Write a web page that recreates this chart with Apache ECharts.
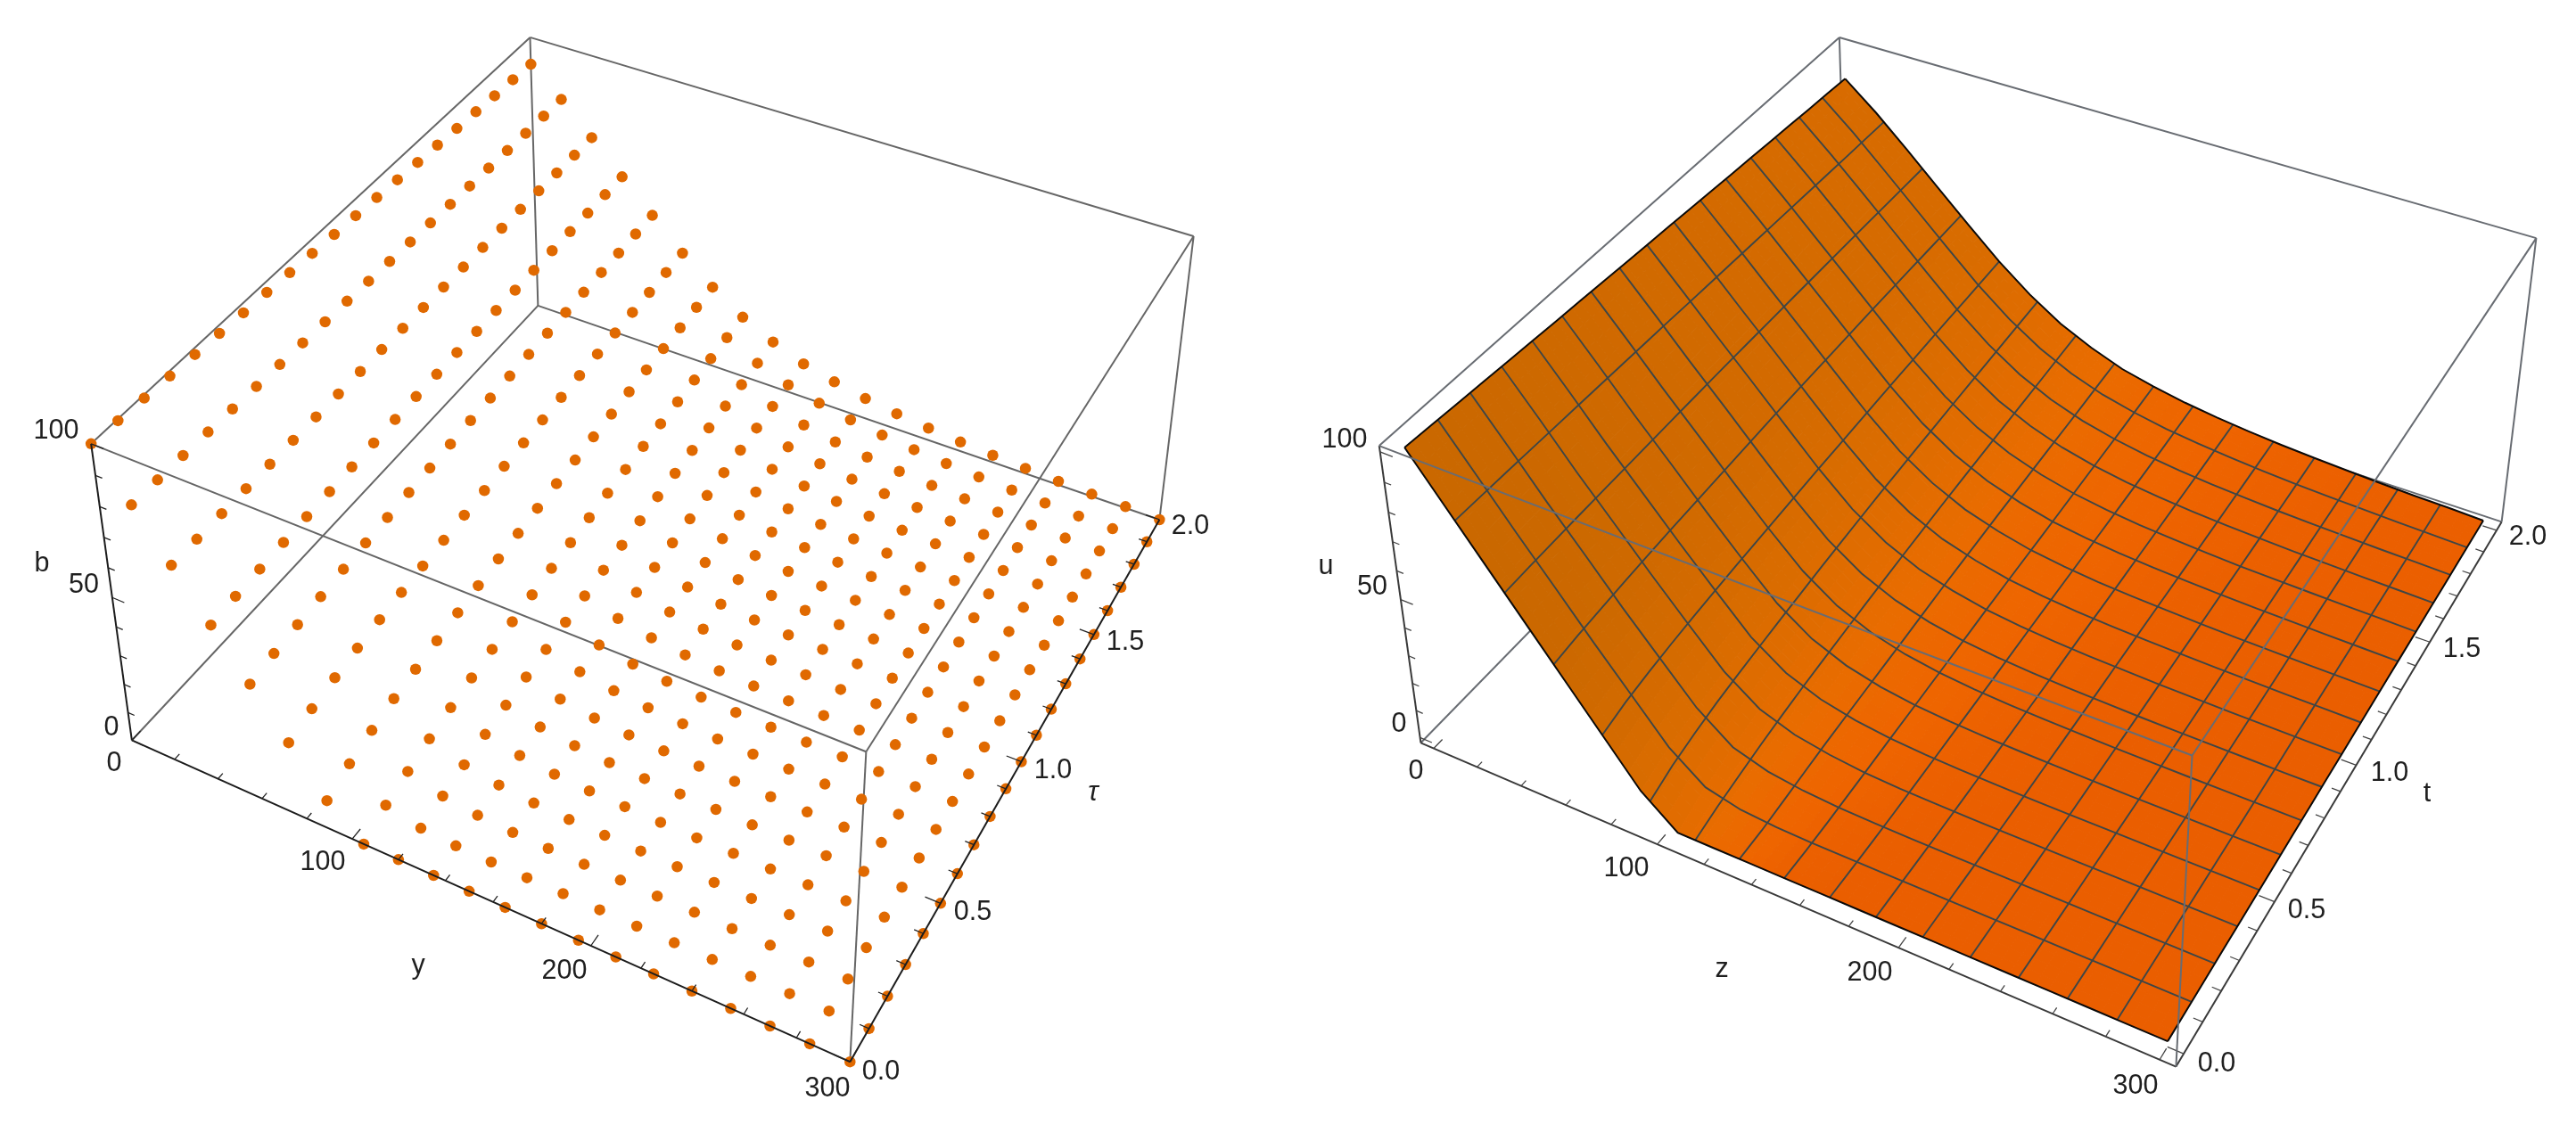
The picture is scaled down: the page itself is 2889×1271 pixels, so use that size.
<!DOCTYPE html>
<html><head><meta charset="utf-8">
<script src="https://cdn.jsdelivr.net/npm/echarts@6/dist/echarts.min.js"></script>
<style>html,body{margin:0;background:#fff}#c{width:2889px;height:1271px}</style></head>
<body><div id="c"></div>
<script>
// ---- grid of the sampled solution -------------------------------------
const yGrid=[0,15,30,45,60,75,90,105,120,135,150,165,180,195,210,225,240,255,270,285,300];
const tauGrid=[0,.1,.2,.3,.4,.5,.6,.7,.8,.9,1,1.1,1.2,1.3,1.4,1.5,1.6,1.7,1.8,1.9,2];
// values: one list per y, running through tauGrid
const v000=[100,99.5,99,98.5,98,97.5,97,96.6,96.1,95.6,95.1,94.7,94.2,93.7,93.2,92.8,92.3,91.9,91.4,91,90.5];
const v015=[85,84.9,84.8,84.6,84.4,84.2,84,83.8,83.6,83.4,83.1,82.9,82.7,82.5,82.3,82.1,81.9,81.7,81.5,81.4,81.2];
const v030=[70,70.1,70.2,70.3,70.4,70.5,70.6,70.7,70.8,70.9,70.9,70.9,70.9,70.9,70.9,70.9,70.9,70.9,70.8,70.8,70.8];
const v045=[55,55.8,56.3,56.8,57.2,57.5,57.9,58.2,58.5,58.8,59,59.2,59.3,59.5,59.6,59.7,59.8,59.9,59.9,60,60];
const v060=[40,41.3,42.2,43,43.8,44.4,44.9,45.4,45.9,46.4,46.9,47.2,47.5,47.8,48.1,48.4,48.6,48.8,49,49.2,49.4];
const v075=[25,27.3,28.8,30,31,31.8,32.5,33.1,33.7,34.3,34.9,35.4,35.9,36.4,36.8,37.2,37.6,38,38.3,38.7,39];
const v090=[10,13.2,15.4,17.2,18.4,19.5,20.6,21.6,22.6,23.4,24.2,25,25.6,26.2,26.8,27.4,28,28.5,29,29.5,30];
const v105=[0,3.8,6,8,9.7,11.1,12.3,13.3,14.3,15.3,16.2,17,17.8,18.5,19.1,19.7,20.2,20.8,21.4,22,22.5];
const v120=[0,1,2.5,3.9,5.2,6.3,7.2,8.1,9.1,9.9,10.7,11.4,12.1,12.8,13.4,14,14.6,15.1,15.6,16.3,17];
const v135=[0,.2,1,1.9,2.8,3.5,4.2,4.9,5.6,6.4,7.2,7.8,8.4,9,9.5,10,10.5,11,11.5,12.1,12.6];
const v150=[0,0,.3,.8,1.3,1.9,2.4,3,3.5,4.1,4.7,5.2,5.7,6.1,6.6,7.1,7.6,8.1,8.6,9.2,9.8];
const v165=[0,0,.1,.3,.6,1,1.4,1.8,2.2,2.7,3.2,3.6,4,4.4,4.8,5.2,5.6,6,6.4,7,7.5];
const v180=[0,0,0,.1,.3,.5,.8,1.1,1.4,1.8,2.2,2.5,2.8,3.1,3.5,3.8,4.2,4.5,4.9,5.4,5.8];
const v195=[0,0,0,0,.1,.3,.5,.7,.9,1.2,1.5,1.8,2,2.3,2.6,2.9,3.1,3.4,3.8,4.1,4.5];
const v210=[0,0,0,0,0,.1,.3,.4,.6,.8,1.1,1.3,1.5,1.7,1.9,2.1,2.3,2.6,2.8,3.1,3.4];
const v225=[0,0,0,0,0,0,.1,.2,.3,.5,.7,.9,1,1.2,1.4,1.5,1.7,1.9,2.1,2.3,2.6];
const v240=[0,0,0,0,0,0,0,.1,.2,.3,.5,.6,.7,.8,1,1.1,1.2,1.4,1.5,1.7,1.9];
const v255=[0,0,0,0,0,0,0,0,.1,.2,.3,.4,.5,.6,.7,.8,.9,1,1.1,1.2,1.3];
const v270=[0,0,0,0,0,0,0,0,0,.1,.2,.2,.3,.3,.4,.5,.5,.6,.7,.7,.8];
const v285=[0,0,0,0,0,0,0,0,0,0,.1,.1,.2,.2,.2,.3,.3,.3,.4,.4,.5];
const v300=[0,0,0,0,0,0,0,0,0,0,0,0,0,0,0,0,0,0,0,0,0];
const values=[v000,v015,v030,v045,v060,v075,v090,v105,v120,v135,v150,v165,v180,v195,v210,v225,v240,v255,v270,v285,v300];

// ---- axis ticks and labels --------------------------------------------
const yMinorTicks=[0,20,40,60,80,100,120,140,160,180,200,220,240,260,280,300];
const yMajorTicks=[0,100,200,300];
const tauMinorTicks=[0,.1,.2,.3,.4,.5,.6,.7,.8,.9,1,1.1,1.2,1.3,1.4,1.5,1.6,1.7,1.8,1.9,2];
const tauMajorTicks=[0,.5,1,1.5,2];
const vMinorTicks=[0,10,20,30,40,50,60,70,80,90,100];
const vMajorTicks=[0,50,100];
const meshY=[18.75,37.5,56.25,75,93.75,112.5,131.25,150,168.75,187.5,206.25,225,243.75,262.5,281.25];
const meshTau=[.125,.25,.375,.5,.625,.75,.875,1,1.125,1.25,1.375,1.5,1.625,1.75,1.875];

// ---- layout: where the two boxes and their texts sit on the page ---------
const leftCorners=[[0,0,0,147.8,831],[1,0,0,953,1191],[1,1,0,1300.4,582.5],[0,1,0,603.6,343],
  [0,0,1,102.5,497],[1,0,1,971.4,843.7],[1,1,1,1338.8,265.3],[0,1,1,594,42]];
const rightCorners=[[0,0,0,1593.8,833.5],[1,0,0,2440.3,1197],[1,1,0,2805.5,585],[0,1,0,2072,343],
  [0,0,1,1546.6,500],[1,0,1,2458.4,846.9],[1,1,1,2844.7,267.7],[0,1,1,2062.8,42]];
const leftRange={y:[0,300],t:[0,2],v:[0,100]};
const rightRange={y:[-6,306],t:[-.04,2.04],v:[-2,102]};
const leftTexts=[['100',63,484],['b',47,633],['50',94,657],['0',125,817],['0',128,857],['100',362,968],['y',469,1084],['200',633,1090],['300',928,1222],['0.0',988,1203],['0.5',1091,1024],['1.0',1181,865],['τ',1226,890,1],['1.5',1262,721],['2.0',1335,591]];
const rightTexts=[['100',1508,494],['u',1487,636],['50',1539,659],['0',1569,813],['0',1588,866],['100',1824,975],['z',1931,1088],['200',2097,1092],['300',2395,1219],['0.0',2486,1194],['0.5',2587,1022],['1.0',2680,868],['t',2722,891],['1.5',2761,729],['2.0',2835,603]];

function solve(A,b){const n=b.length;for(let i=0;i<n;i++){let p=i;for(let r=i+1;r<n;r++)if(Math.abs(A[r][i])>Math.abs(A[p][i]))p=r;
  [A[i],A[p]]=[A[p],A[i]];[b[i],b[p]]=[b[p],b[i]];
  for(let r=i+1;r<n;r++){const f=A[r][i]/A[i][i];for(let c=i;c<n;c++)A[r][c]-=f*A[i][c];b[r]-=f*b[i];}}
  const x=new Array(n).fill(0);for(let i=n-1;i>=0;i--){let s=b[i];for(let c=i+1;c<n;c++)s-=A[i][c]*x[c];x[i]=s/A[i][i];}return x;}
function camera(corners,range){
  const rows=[],rhs=[];
  corners.forEach(([u,v,w,X,Y])=>{X/=1000;Y/=1000;
    rows.push([u,v,w,1,0,0,0,0,-X*u,-X*v,-X*w]);rhs.push(X);
    rows.push([0,0,0,0,u,v,w,1,-Y*u,-Y*v,-Y*w]);rhs.push(Y);});
  const N=Array.from({length:11},()=>new Array(11).fill(0)),B=new Array(11).fill(0);
  rows.forEach((r,k)=>{for(let i=0;i<11;i++){B[i]+=r[i]*rhs[k];for(let j=0;j<11;j++)N[i][j]+=r[i]*r[j];}});
  const p=solve(N,B);
  return (y,t,val)=>{const u=(y-range.y[0])/(range.y[1]-range.y[0]),v=(t-range.t[0])/(range.t[1]-range.t[0]),w=(val-range.v[0])/(range.v[1]-range.v[0]);
    const d=p[8]*u+p[9]*v+p[10]*w+1;
    return [1000*(p[0]*u+p[1]*v+p[2]*w+p[3])/d,1000*(p[4]*u+p[5]*v+p[6]*w+p[7])/d];};
}
const projL=camera(leftCorners,leftRange), projR=camera(rightCorners,rightRange);

function itemsSeries(list,z){
  return {type:'custom',coordinateSystem:'cartesian2d',z,silent:true,animation:false,clip:false,progressive:0,
    data:list.map(s=>s.pts[0]),
    renderItem:(p,api)=>{const s=list[p.dataIndex];const pts=s.pts.map(q=>api.coord(q));
      return s.fill?{type:'polygon',shape:{points:pts},style:{fill:s.fill,stroke:s.fill,lineWidth:1}}
        :{type:'polyline',shape:{points:pts},style:{fill:null,stroke:s.stroke,lineWidth:s.w}};}};
}
function boxAndAxes(proj,r,edge,axis,axisW,tickColor){
  const [y0,y1]=r.y,[t0,t1]=r.t,[b0,b1]=r.v;
  const seg=(a,b,stroke,w)=>({pts:[proj(...a),proj(...b)],stroke,w});
  const back=[[[y0,t0,b0],[y0,t1,b0]],[[y0,t1,b0],[y1,t1,b0]],[[y0,t1,b0],[y0,t1,b1]],[[y0,t0,b1],[y0,t1,b1]],[[y0,t1,b1],[y1,t1,b1]],[[y1,t1,b0],[y1,t1,b1]]].map(e=>seg(e[0],e[1],edge,2));
  const front=[[[y0,t0,b1],[y1,t0,b1]],[[y1,t0,b1],[y1,t0,b0]],[[y1,t0,b1],[y1,t1,b1]]].map(e=>seg(e[0],e[1],edge,2));
  const ax=[seg([y0,t0,b0],[y0,t0,b1],axis,axisW),seg([y0,t0,b0],[y1,t0,b0],axis,axisW),seg([y1,t0,b0],[y1,t1,b0],axis,axisW)];
  yMinorTicks.forEach(v=>{const d=yMajorTicks.includes(v)?.035:.02;ax.push(seg([v,t0,b0],[v,t0+d,b0],tickColor,1.3));});
  tauMinorTicks.forEach(v=>{const d=tauMajorTicks.includes(v)?6:3.5;ax.push(seg([y1,v,b0],[y1-d,v,b0],tickColor,1.3));});
  vMinorTicks.forEach(v=>{const d=vMajorTicks.includes(v)?5.5:3;ax.push(seg([y0,t0,v],[y0+d,t0,v],tickColor,1.3));});
  return {back,front,ax};
}
// surface shading: steep slope is darker, the flat part deep orange
const stops=[[0,[234,94,0]],[.1,[239,101,0]],[.3,[234,108,0]],[.6,[220,109,0]],[1,[201,104,0]]];
function shade(m){for(let i=1;i<stops.length;i++){if(m<=stops[i][0]){const a=stops[i-1],b=stops[i],f=(m-a[0])/(b[0]-a[0]);return a[1].map((c,k)=>c+(b[1][k]-c)*f);}}return stops[stops.length-1][1];}
const rawSlope=yGrid.map((_,i)=>tauGrid.map((_,j)=>{const lo=Math.max(i-1,0),hi=Math.min(i+1,20);return Math.abs(values[hi][j]-values[lo][j])/(yGrid[hi]-yGrid[lo]);}));
// soften the colour field so the shading runs smoothly across the facets
const slope=yGrid.map((_,i)=>tauGrid.map((_,j)=>{let s=0,n=0;for(let a=-2;a<=2;a++)for(let b=-2;b<=2;b++){const r=rawSlope[i+a]&&rawSlope[i+a][j+b];if(r!=null){s+=r;n++;}}return s/n;}));
const SUB=3,surface=[];
function bil(a,b,c,d,f,g){return (a*(1-f)+b*f)*(1-g)+(d*(1-f)+c*f)*g;}
for(let j=19;j>=0;j--)for(let i=0;i<20;i++)for(let sj=SUB-1;sj>=0;sj--)for(let si=0;si<SUB;si++){
  const P=(a,b)=>{const f=(si+a)/SUB,g=(sj+b)/SUB;
    return projR(yGrid[i]+15*f,tauGrid[j]+.1*g,bil(values[i][j],values[i+1][j],values[i+1][j+1],values[i][j+1],f,g));};
  const m=bil(slope[i][j],slope[i+1][j],slope[i+1][j+1],slope[i][j+1],(si+.5)/SUB,(sj+.5)/SUB);
  const c=shade(m);
  surface.push({pts:[P(0,0),P(1,0),P(1,1),P(0,1)],fill:`rgb(${c[0]|0},${c[1]|0},${c[2]|0})`});
}
function at(y,t){const i=Math.min(Math.floor(y/15),19),j=Math.min(Math.floor(t/.1+1e-9),19),f=(y-yGrid[i])/15,g=(t-tauGrid[j])/.1;return bil(values[i][j],values[i+1][j],values[i+1][j+1],values[i][j+1],f,g);}
const mesh=[],rim=[];
const lineAlongY=t=>yGrid.map(y=>projR(y,t,at(y,t)));
const lineAlongTau=y=>tauGrid.map(t=>projR(y,t,at(y,t)));
meshTau.forEach(t=>mesh.push({pts:lineAlongY(t),stroke:'#3e4646',w:1.9}));
meshY.forEach(y=>mesh.push({pts:lineAlongTau(y),stroke:'#3e4646',w:1.9}));
[0,2].forEach(t=>rim.push({pts:lineAlongY(t),stroke:'#0a0a0a',w:2}));
[0,300].forEach(y=>rim.push({pts:lineAlongTau(y),stroke:'#0a0a0a',w:2}));

const L=boxAndAxes(projL,leftRange,'#666666','#1c1c1c',2,'#222222');
const R=boxAndAxes(projR,rightRange,'#686c72','#3a3a3a',2,'#444444');
const dots=[];yGrid.forEach((y,i)=>tauGrid.forEach((t,j)=>dots.push(projL(y,t,values[i][j]))));

const FONT='"Liberation Sans",Arial,sans-serif';
const txt=a=>({type:'text',x:a[1],y:a[2],silent:true,z:50,style:{text:a[0],x:0,y:0,fill:'#1f1f1f',align:'center',verticalAlign:'middle',textAlign:'center',textVerticalAlign:'middle',font:(a[3]?'italic ':'')+'30.5px '+FONT}});

const chart=echarts.init(document.getElementById('c'),null,{renderer:'canvas'});
chart.setOption({animation:false,backgroundColor:'#ffffff',
  grid:{left:0,right:0,top:0,bottom:0},
  xAxis:{type:'value',min:0,max:2889,show:false},
  yAxis:{type:'value',min:0,max:1271,inverse:true,show:false},
  series:[
    itemsSeries(L.back,2),itemsSeries(L.front,2),
    {type:'scatter',data:dots,symbol:'circle',symbolSize:12.5,z:3,silent:true,animation:false,itemStyle:{color:'#E06900',opacity:1},progressive:0,large:false},
    itemsSeries(L.ax,4),
    itemsSeries(R.back,2),
    itemsSeries(R.ax,2),
    itemsSeries(surface,5),
    itemsSeries(mesh,6),
    itemsSeries(rim,7),
    itemsSeries(R.front,8)
  ],
  graphic:{elements:leftTexts.concat(rightTexts).map(txt)}
});
</script></body></html>
